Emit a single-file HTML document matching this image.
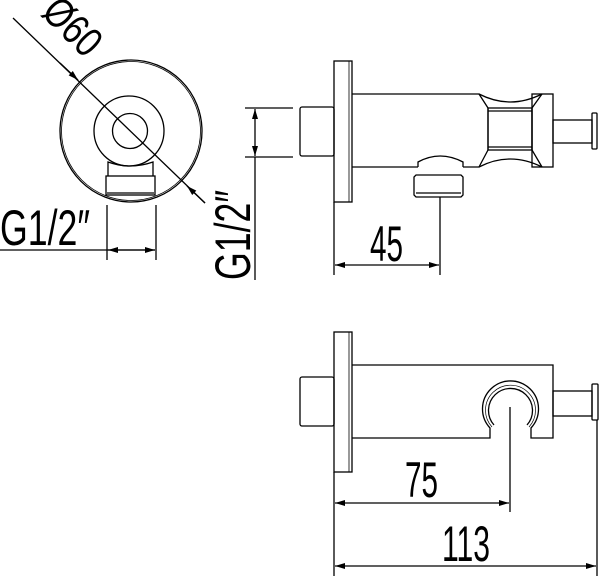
<!DOCTYPE html>
<html><head><style>html,body{margin:0;padding:0;background:#fff}svg{display:block}</style></head>
<body>
<svg width="600" height="576" viewBox="0 0 600 576" xmlns="http://www.w3.org/2000/svg" font-family="Liberation Sans, sans-serif">
<defs>
<marker id="a" viewBox="0 0 10 6" refX="10" refY="3" markerWidth="10" markerHeight="6" markerUnits="userSpaceOnUse" orient="auto-start-reverse"><path d="M0,0 L10,3 L0,6 Z" fill="#000"/></marker>
</defs>
<g fill="none" stroke="#000" stroke-width="1.3">
<circle cx="131" cy="131" r="71"/>
<circle cx="131" cy="131" r="69.5" stroke-width="0.8"/>
<circle cx="129" cy="131" r="35"/>
<circle cx="130" cy="131" r="17.5"/>
<path d="M108,176 L108,162 Q130,170 153,162 L153,176"/>
<rect x="106" y="176" width="49" height="19" fill="#fff"/>
<line x1="107" y1="193" x2="154" y2="193"/>
<line x1="13" y1="18" x2="205" y2="203"/>
<line x1="60" y1="63" x2="78" y2="80" marker-end="url(#a)"/>
<line x1="205" y1="203" x2="187" y2="186" marker-end="url(#a)"/>
<line x1="0" y1="250" x2="155" y2="250"/>
<line x1="107" y1="205" x2="107" y2="260"/>
<line x1="156" y1="205" x2="156" y2="260"/>
<line x1="131" y1="250" x2="108" y2="250" marker-end="url(#a)"/>
<line x1="131" y1="250" x2="155" y2="250" marker-end="url(#a)"/>
<line x1="245" y1="108" x2="293" y2="108"/>
<line x1="245" y1="157" x2="293" y2="157"/>
<line x1="255" y1="157" x2="255" y2="280"/>
<line x1="255" y1="132" x2="255" y2="109" marker-end="url(#a)"/>
<line x1="255" y1="132" x2="255" y2="156" marker-end="url(#a)"/>
<rect x="300" y="107" width="34" height="49" rx="2"/>
<rect x="334" y="61" width="18" height="141"/>
<line x1="349" y1="61" x2="349" y2="202" stroke-width="0.8"/>
<path d="M352,94 L479,94 Q510,110 542,94"/>
<path d="M352,167 L418,167 M463,167 L479,167 Q510,151 542,167"/>
<path d="M479,94 L488,108 L488,150 L479,167"/>
<path d="M542,94 L532,108 L532,150 L542,167"/>
<rect x="488" y="108" width="44" height="42"/>
<line x1="488" y1="111" x2="532" y2="111"/>
<line x1="488" y1="147" x2="532" y2="147"/>
<rect x="532" y="94" width="21" height="73"/>
<rect x="553" y="120" width="39" height="23"/>
<rect x="592" y="113" width="5" height="36" rx="1"/>
<path d="M418,167 L418,162 Q440,150 463,162 L463,167"/>
<path d="M416,175 L461,175 L463,177 L463,195 L461,197 L416,197 L414,195 L414,177 Z"/>
<line x1="416" y1="193" x2="461" y2="193"/>
<line x1="334" y1="202" x2="334" y2="275"/>
<line x1="440" y1="197" x2="440" y2="275"/>
<line x1="387" y1="265" x2="335" y2="265" marker-end="url(#a)"/>
<line x1="387" y1="265" x2="439" y2="265" marker-end="url(#a)"/>
<rect x="300" y="377" width="34" height="49" rx="2"/>
<rect x="334" y="332" width="18" height="140"/>
<line x1="349" y1="332" x2="349" y2="472" stroke-width="0.8"/>
<path d="M352,365 L553,365 L553,438 L531,438 L531,428 A28,28 0 1,0 490,428 L490,438 L352,438"/>
<path d="M494,425 A22,22 0 1,1 527,425"/>
<path d="M492,427 A25,25 0 1,1 529,427" stroke-width="0.7"/>
<rect x="553" y="391" width="39" height="25"/>
<rect x="592" y="384" width="6" height="36" rx="1"/>
<line x1="510" y1="407" x2="510" y2="512"/>
<line x1="334" y1="472" x2="334" y2="576"/>
<line x1="597" y1="420" x2="597" y2="576"/>
<line x1="420" y1="503" x2="335" y2="503" marker-end="url(#a)"/>
<line x1="420" y1="503" x2="509" y2="503" marker-end="url(#a)"/>
<line x1="465" y1="566" x2="335" y2="566" marker-end="url(#a)"/>
<line x1="465" y1="566" x2="596" y2="566" marker-end="url(#a)"/>
</g>
<g fill="#000" font-size="50">
<text x="0" y="245" textLength="90" lengthAdjust="spacingAndGlyphs">G1/2″</text>
<text x="370" y="261" textLength="33" lengthAdjust="spacingAndGlyphs">45</text>
<text x="405" y="497" textLength="33" lengthAdjust="spacingAndGlyphs">75</text>
<text x="442" y="561" textLength="48" lengthAdjust="spacingAndGlyphs">113</text>
<text transform="translate(250,280) rotate(-90)" x="0" y="0" textLength="90" lengthAdjust="spacingAndGlyphs">G1/2″</text>
<text transform="translate(40,14) rotate(45)" x="0" y="0" font-size="42" textLength="64" lengthAdjust="spacingAndGlyphs">Ø60</text>
</g>
</svg>
</body></html>
